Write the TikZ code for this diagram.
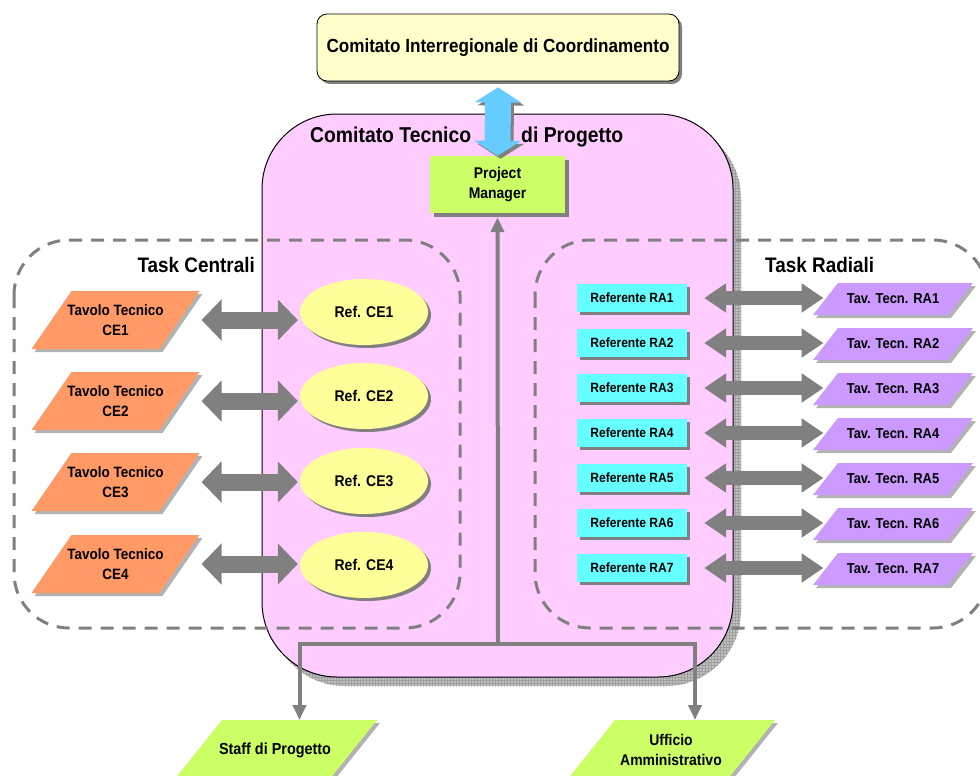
\documentclass[tikz,border=0pt]{standalone}
\usepackage{fontspec}
\setmainfont{Liberation Sans}[FakeStretch=0.9]
\usetikzlibrary{arrows.meta,shapes.geometric,shadows,patterns}

\definecolor{pinkbg}{HTML}{FFCCFF}
\definecolor{topyel}{HTML}{FFFFCC}
\definecolor{pmgreen}{HTML}{CCFF66}
\definecolor{ceorange}{HTML}{FF9966}
\definecolor{ceyel}{HTML}{FFFF99}
\definecolor{racyan}{HTML}{66FFFF}
\definecolor{ralilac}{HTML}{CC99FF}
\definecolor{linkblue}{HTML}{66CCFF}
\definecolor{linkgray}{HTML}{808080}

% slanted box: fill, name, cx, cy, half body width, half height, half slant, font size, text
\newcommand\slanted[9]{%
  \fill[slantshadow] (#3-#5-#7+3,#4+#6+3) -- (#3+#5-#7+3,#4+#6+3) -- (#3+#5+#7+3,#4-#6+3) -- (#3-#5+#7+3,#4-#6+3) -- cycle;
  \fill[#1] (#3-#5-#7,#4+#6) -- (#3+#5-#7,#4+#6) -- (#3+#5+#7,#4-#6) -- (#3-#5+#7,#4-#6) -- cycle;
  \node[lbl=#8] (#2) at (#3,#4) {#9};
  \coordinate (#2-e) at (#3+#5,#4);
  \coordinate (#2-w) at (#3-#5,#4);
}

\begin{document}
\begin{tikzpicture}[x=1pt,y=-1pt,
  lbl/.style={font=\bfseries\fontsize{#1}{20}\selectfont, align=center, inner sep=0pt, text=black},
  boxshadow/.style={drop shadow={shadow xshift=#1,shadow yshift=-#1,fill=linkgray,opacity=1}},
  taskarea/.style={draw=linkgray, line width=3pt, dash pattern=on 13pt off 9pt, rounded corners=55pt},
  slantshadow/.style={fill=gray!60},
  wideboth/.style={draw=linkgray, line width=17pt, {Triangle[width=40pt,length=20pt]}-{Triangle[width=40pt,length=20pt]}},
  narrowboth/.style={draw=linkgray, line width=14pt, {Triangle[width=28pt,length=22pt]}-{Triangle[width=28pt,length=22pt]}},
  feed/.style={draw=linkgray, line width=4pt},
]
\useasboundingbox (0,0) rectangle (980,776);

% technical committee area with hatched shadow
\path[fill=gray!50, rounded corners=75pt] (270,123) rectangle (741,686);
\path[pattern=grid, pattern color=gray!75, rounded corners=75pt] (270,123) rectangle (741,686);
\node[draw=black, line width=1pt, fill=pinkbg, rounded corners=75pt,
      minimum width=471pt, minimum height=563pt, inner sep=0pt] (ctp) at (497.5,395.5) {};

% task areas
\draw[taskarea] (14,240) rectangle (460,628);
\draw[taskarea] (535,240) rectangle (988,628);

% top committee
\node[draw=black, line width=0.8pt, fill=topyel, rounded corners=10pt, minimum width=362pt,
      minimum height=67pt, boxshadow=3pt, lbl=19] (cic) at (498,47.5)
      {Comitato Interregionale di Coordinamento};

\node[lbl=21.5, anchor=base west] (ctpA) at (310,142) {Comitato Tecnico};
\node[lbl=21.5, anchor=base west] (ctpB) at (521,142) {di Progetto};

% project manager
\node[fill=pmgreen, minimum width=135pt, minimum height=57pt, boxshadow=4pt, lbl=15.5]
      (pm) at (497.5,184.5) {Project\\Manager};

% link committee <-> project manager
\draw[line width=26pt, draw=linkgray,
      {Triangle[width=46pt,length=15pt]}-{Triangle[width=46pt,length=15pt]},
      transform canvas={shift={(3pt,-3pt)}}] ([yshift=-6pt]cic.south) -- (pm.north);
\draw[line width=26pt, draw=linkblue,
      {Triangle[width=46pt,length=15pt]}-{Triangle[width=46pt,length=15pt]}]
      ([yshift=-6pt]cic.south) -- (pm.north);

% area titles
\node[lbl=21, anchor=base east] (tcT) at (255,272) {Task Centrali};
\node[lbl=21, anchor=base west] (raT) at (765,272) {Task Radiali};

% central tasks
\foreach \i/\y/\ey in {1/320/312,2/401/396,3/482/481,4/564/565}{
  \slanted{ceorange}{tc\i}{115.5}{\y}{64}{29}{20}{15}{Tavolo Tecnico\\CE\i}
  \node[ellipse, fill=ceyel, minimum width=128pt, minimum height=66pt, inner sep=0pt,
        boxshadow=3pt, lbl=15.5] (ce\i) at (364,\ey) {Ref. CE\i};
  \draw[wideboth, shorten <=22pt, shorten >=2pt] (tc\i-e) -- (tc\i-e -| ce\i.west);
}

% radial tasks
\foreach \i/\y in {1/298,2/343,3/388,4/433,5/478,6/523,7/568}{
  \node[fill=racyan, minimum width=110pt, minimum height=28pt, boxshadow=3pt, lbl=13.4]
        (ra\i) at (632,\y) {Referente RA\i};
  \slanted{ralilac}{tav\i}{893}{\y+1}{67.5}{16}{12.5}{14.4}{Tav. Tecn. RA\i}
  \draw[narrowboth, shorten <=17pt, shorten >=2pt] (ra\i.east) -- (ra\i.east -| tav\i-w);
}

% staff and administration
\fill[slantshadow] (161,803) -- (316,803) -- (380,723) -- (225,723) -- cycle;
\fill[pmgreen] (158,800) -- (313,800) -- (377,720) -- (222,720) -- cycle;
\node[lbl=16] (staff) at (275,750) {Staff di Progetto};
\coordinate (staff-n) at (299.5,720);

\fill[slantshadow] (554,803) -- (714,803) -- (778,723) -- (618,723) -- cycle;
\fill[pmgreen] (551,800) -- (711,800) -- (775,720) -- (615,720) -- cycle;
\node[lbl=15.5] (uff) at (671,750) {Ufficio\\Amministrativo};
\coordinate (uff-n) at (695,720);

% reporting lines
\coordinate (hub) at (498,644);
\draw[feed, {Triangle[width=13pt,length=15pt]}-{Triangle[width=13pt,length=15pt]}]
      (staff-n) -- (staff-n |- hub) -- (uff-n |- hub) -- (uff-n);
\draw[feed, -{Triangle[width=13pt,length=15pt]}] (hub) -- ([yshift=-4pt]pm.south);
\end{tikzpicture}
\end{document}
